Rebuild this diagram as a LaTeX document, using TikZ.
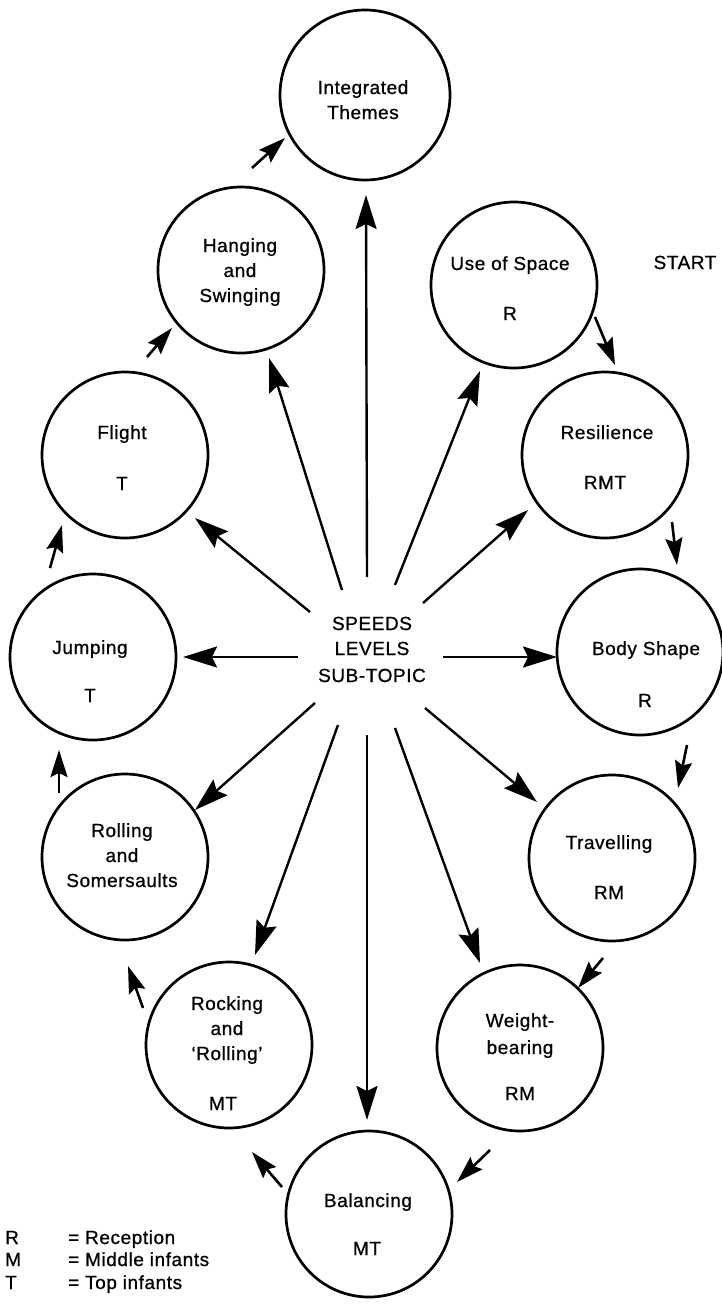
\documentclass[tikz,border=0pt]{standalone}
\usepackage{fontspec}
\setmainfont{Liberation Sans}[LetterSpace=3,FakeBold=0.8]
\usetikzlibrary{arrows.meta,calc}
\begin{document}
\begin{tikzpicture}[x=1pt,y=-1pt,
  topic/.style={draw,circle,line width=2.7pt,minimum size=166pt,inner sep=0pt},
  lbl/.style={font=\fontsize{19}{22}\selectfont,inner sep=0pt,anchor=base},
  leg/.style={font=\fontsize{19}{22}\selectfont,inner sep=0pt,anchor=base west},
  ringarrow/.style={line width=2.6pt,-{Stealth[length=27pt,width=17pt,inset=4pt]}},
  spoke/.style={line width=2.4pt,-{Stealth[length=34pt,width=21pt,inset=5pt]}}]
\useasboundingbox (0,0) rectangle (722,1304);

% circles
\node[topic,minimum size=170pt] (integ) at (365,95) {};
\node[topic] (hang) at (241,270) {};
\node[topic] (uos) at (514,285) {};
\node[topic] (flight) at (125,455) {};
\node[topic] (res) at (605,455) {};
\node[topic] (jump) at (93,657) {};
\node[topic] (body) at (640,652) {};
\node[topic] (roll) at (125,857) {};
\node[topic] (trav) at (612,858) {};
\node[topic] (rock) at (229,1045) {};
\node[topic] (weight) at (520,1048) {};
\node[topic] (bal) at (369,1214) {};

% texts
\node[lbl] (tInteg1) at (363,94) {Integrated};
\node[lbl] (tInteg2) at (363,119) {Themes};
\node[lbl] (tHang1) at (240,252) {Hanging};
\node[lbl] (tHang2) at (240,277) {and};
\node[lbl] (tHang3) at (240,302) {Swinging};
\node[lbl] (tUos1) at (510,270) {Use of Space};
\node[lbl] (tUos2) at (510,320) {R};
\node[lbl] (tFl1) at (122,439) {Flight};
\node[lbl] (tFl2) at (122,490) {T};
\node[lbl] (tRes1) at (607,439) {Resilience};
\node[lbl] (tRes2) at (605,489) {RMT};
\node[lbl] (tJu1) at (90,654) {Jumping};
\node[lbl] (tJu2) at (90,702) {T};
\node[lbl] (tBo1) at (646,655) {Body Shape};
\node[lbl] (tBo2) at (645,707) {R};
\node[lbl] (tRo1) at (122,837) {Rolling};
\node[lbl] (tRo2) at (122,862) {and};
\node[lbl] (tRo3) at (122,887) {Somersaults};
\node[lbl] (tTr1) at (609,849) {Travelling};
\node[lbl] (tTr2) at (609,899) {RM};
\node[lbl] (tRk1) at (227,1010) {Rocking};
\node[lbl] (tRk2) at (227,1035) {and};
\node[lbl] (tRk3) at (227,1060) {`Rolling'};
\node[lbl] (tRk4) at (223,1110) {MT};
\node[lbl] (tWe1) at (520,1027) {Weight-};
\node[lbl] (tWe2) at (520,1054) {bearing};
\node[lbl] (tWe3) at (520,1100) {RM};
\node[lbl] (tBa1) at (368,1207) {Balancing};
\node[lbl] (tBa2) at (367,1255) {MT};
\node[lbl] (start) at (685,269) {START};

% centre text
\node[inner sep=0pt] (c) at (372,648) {};
\node[lbl] (c1) at (372,630) {SPEEDS};
\node[lbl] (c2) at (372,655) {LEVELS};
\node[lbl] (c3) at (372,682) {SUB-TOPIC};

% legend
\node[leg] (lR) at (5,1244) {R};
\node[leg] (lR2) at (68,1244) {= Reception};
\node[leg] (lM) at (5,1266) {M};
\node[leg] (lM2) at (68,1266) {= Middle infants};
\node[leg] (lT) at (5,1289) {T};
\node[leg] (lT2) at (68,1289) {= Top infants};

% ring arrows
\draw[ringarrow] ($(hang)+(11,-102)$) -- ($(integ)+(-80,43)$);
\draw[ringarrow] ($(flight)+(22,-98)$) -- ($(hang)+(-69,58)$);
\draw[ringarrow] ($(jump)+(-43,-89)$) -- ($(flight)+(-63,70)$);
\draw[ringarrow] ($(roll)+(-66,-64)$) -- ($(jump)+(-34,93)$);
\draw[ringarrow] ($(rock)+(-86,-37)$) -- ($(roll)+(3,109)$);
\draw[ringarrow] ($(bal)+(-87,-27)$) -- ($(rock)+(23,107)$);
\draw[ringarrow] ($(weight)+(-30,102)$) -- ($(bal)+(88,-32)$);
\draw[ringarrow] ($(trav)+(-9,100)$) -- ($(weight)+(58,-60)$);
\draw[ringarrow] ($(body)+(47,93)$) -- ($(trav)+(66,-70)$);
\draw[ringarrow] ($(res)+(67,67)$) -- ($(body)+(37,-87)$);
\draw[ringarrow] ($(uos)+(81,32)$) -- ($(res)+(10,-90)$);

% spokes
\draw[spoke] ($(c)+(-5,-71)$) -- ($(integ)+(1,100)$);
\draw[spoke] ($(c)+(-30,-58)$) -- ($(hang)+(28,88)$);
\draw[spoke] ($(c)+(23,-63)$) -- ($(uos)+(-34,86)$);
\draw[spoke] ($(c)+(51,-45)$) -- ($(res)+(-77,55)$);
\draw[spoke] ($(c)+(-62,-36)$) -- ($(flight)+(70,63)$);
\draw[spoke] ($(c)+(-74,9)$) -- ($(jump)+(90,0)$);
\draw[spoke] ($(c)+(71,9)$) -- ($(body)+(-83,5)$);
\draw[spoke] ($(c)+(-57,55)$) -- ($(roll)+(70,-47)$);
\draw[spoke] ($(c)+(-34,77)$) -- ($(rock)+(26,-90)$);
\draw[spoke] ($(c)+(-5,87)$) -- ($(bal)+(-2,-94)$);
\draw[spoke] ($(c)+(23,80)$) -- ($(weight)+(-40,-85)$);
\draw[spoke] ($(c)+(53,60)$) -- ($(trav)+(-75,-56)$);
\end{tikzpicture}
\end{document}
